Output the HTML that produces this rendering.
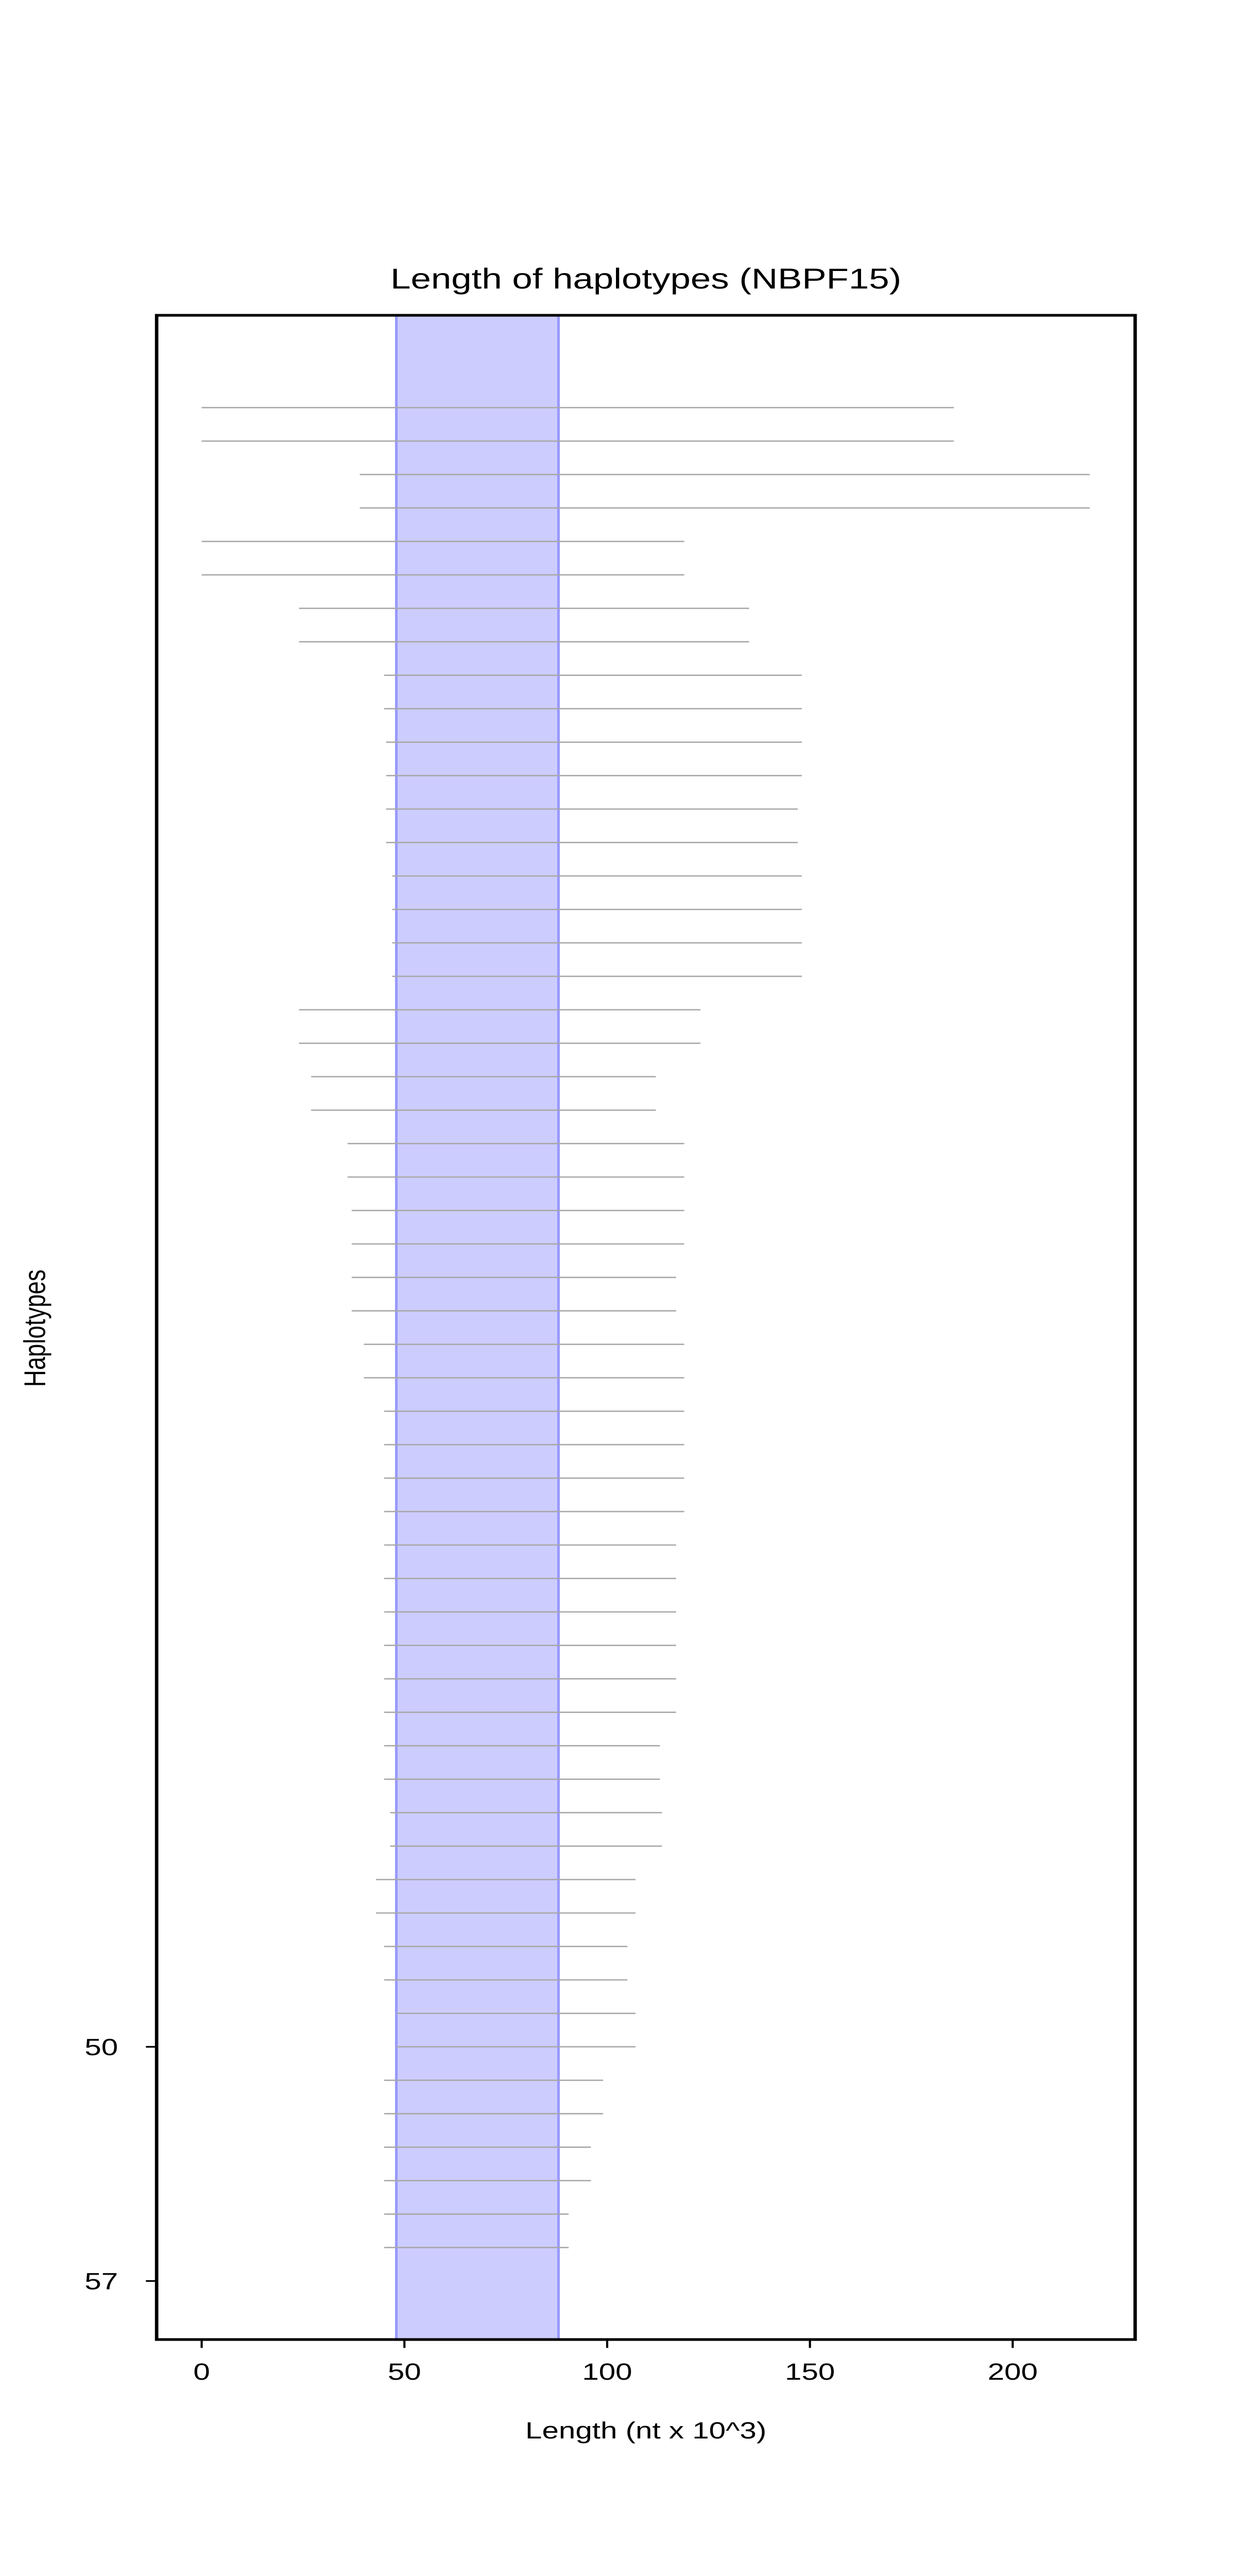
<!DOCTYPE html>
<html><head><meta charset="utf-8"><style>
html,body{margin:0;padding:0;background:#fff;width:100%;height:100%;overflow:hidden;}
svg{display:block;width:100vw;height:100vh;}
text{font-family:"Liberation Sans","DejaVu Sans",sans-serif;fill:#000;}
</style></head><body>
<svg id="chart" viewBox="0 0 576 1536" preserveAspectRatio="none" xmlns="http://www.w3.org/2000/svg">
<rect width="576" height="1536" fill="#fff"/>
<g id="plot"></g>
</svg>
<script>
const xTicks=[0,50,100,150,200];
const yTickLabels=[50,57];
const bandRange=[48,88];
const starts=[0,0,39,39,0,0,24,24,45,45,45.5,45.5,45.5,45.5,47,47,47,47,24,24,27,27,36,36,37,37,37,37,40,40,45,45,45,45,45,45,45,45,45,45,45,45,46.5,46.5,43,43,45,45,48,48,45,45,45,45,45,45];
const ends=[185.5,185.5,219,219,119,119,135,135,148,148,148,148,147,147,148,148,148,148,123,123,112,112,119,119,119,119,117,117,119,119,119,119,119,119,117,117,117,117,117,117,113,113,113.5,113.5,107,107,105,105,107,107,99,99,96,96,90.5,90.5];

const L=73,R=529,T=188,B=1395;
const xMin=-11.1,xMax=230.2,yMin=-1.76,yMax=58.75;
const sx=v=>L+(v-xMin)/(xMax-xMin)*(R-L);
const sy=v=>T+(v-yMin)/(yMax-yMin)*(B-T);
const NS="http://www.w3.org/2000/svg";
const g=document.getElementById('plot');
function mk(tag,attrs){const e=document.createElementNS(NS,tag);for(const k in attrs)e.setAttribute(k,attrs[k]);g.appendChild(e);return e;}

let band=mk('rect',{x:sx(bandRange[0]),y:T,width:sx(bandRange[1])-sx(bandRange[0]),height:B-T,fill:'#ccccff',stroke:'none'});


[bandRange[0],bandRange[1]].forEach(v=>{
  const e=mk('line',{x1:sx(v),x2:sx(v),y1:T,y2:B,stroke:'#9999ff','stroke-width':1.2});
  
  
});
starts.forEach((s,i)=>{
  const y=sy(i+1);
  const e=mk('line',{x1:sx(s),x2:sx(ends[i]),y1:y,y2:y,stroke:'#a8a8a8','stroke-width':0.8});
  
  
});
let frame=mk('rect',{x:L,y:T,width:R-L,height:B-T,fill:'none',stroke:'#000','stroke-width':1.6});


xTicks.forEach(v=>{
  const t=mk('line',{x1:sx(v),x2:sx(v),y1:B,y2:B+5,stroke:'#000','stroke-width':1});
  
  
  const l=mk('text',{x:sx(v),y:B+24,'text-anchor':'middle','font-size':14});
  l.textContent=v;
  
  
});
yTickLabels.forEach(v=>{
  const t=mk('line',{x1:L-5,x2:L,y1:sy(v),y2:sy(v),stroke:'#000','stroke-width':1});
  
  
  const l=mk('text',{x:L-18,y:sy(v)+5,'text-anchor':'end','font-size':14});
  l.textContent=v;
  
  
});
let title=mk('text',{x:(L+R)/2,y:172,'text-anchor':'middle','font-size':17});
title.textContent='Length of haplotypes (NBPF15)';


let xl=mk('text',{x:(L+R)/2,y:1454,'text-anchor':'middle','font-size':14});
xl.textContent='Length (nt x 10^3)';


let yl=mk('text',{x:0,y:0,'text-anchor':'middle','font-size':14,transform:'translate(21,792) rotate(-90)'});
yl.textContent='Haplotypes';


</script>
</body></html>
